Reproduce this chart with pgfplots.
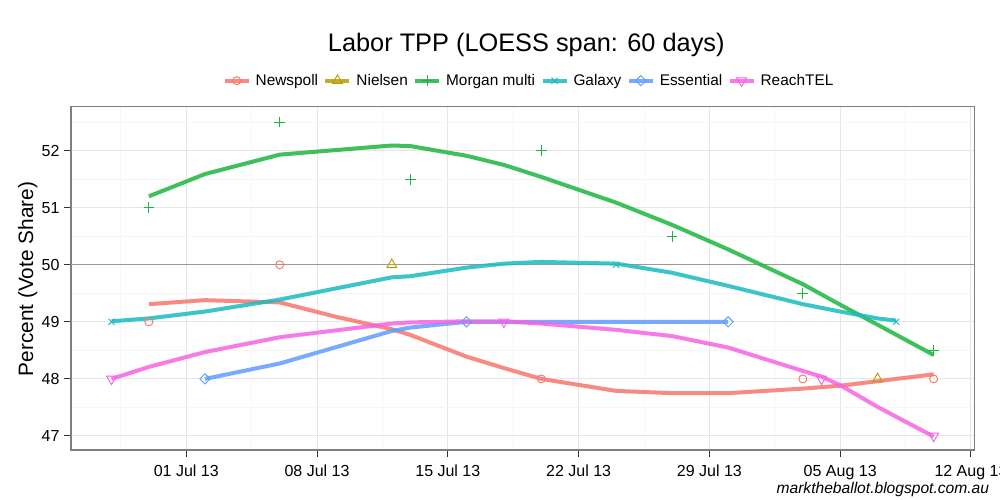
\documentclass[border=0pt]{standalone}
\usepackage{fontspec}
\setmainfont{Liberation Sans}
\usepackage{pgfplots}
\pgfplotsset{compat=1.18}
\definecolor{cNews}{HTML}{F8766D}
\definecolor{cNiel}{HTML}{B79F00}
\definecolor{cMorg}{HTML}{1DB63F}
\definecolor{cGal}{HTML}{19BCC0}
\definecolor{cEss}{HTML}{619CFF}
\definecolor{cReach}{HTML}{F564E3}
\definecolor{gmaj}{HTML}{E6E6E6}
\definecolor{gmin}{HTML}{F6F6F6}
\definecolor{gborder}{HTML}{7F7F7F}
\definecolor{gref}{HTML}{9A9A9A}
\definecolor{gtick}{HTML}{333333}
\begin{document}
\begin{tikzpicture}
\useasboundingbox[fill=white] (0pt,0pt) rectangle (750pt,375pt);
\begin{axis}[
  at={(53.25pt,37.5pt)}, anchor=south west,
  scale only axis, width=677.5pt, height=257.5pt,
  xmin=-6.17, xmax=42.18, ymin=46.754, ymax=52.771,
  xtick={0,7,14,21,28,35,42},
  xticklabels={01 Jul 13,08 Jul 13,15 Jul 13,22 Jul 13,29 Jul 13,05 Aug 13,12 Aug 13},
  minor xtick={-3.5,3.5,10.5,17.5,24.5,31.5,38.5},
  ytick={47,48,49,50,51,52},
  minor ytick={47.5,48.5,49.5,50.5,51.5,52.5},
  grid=both,
  major grid style={color=gmaj, line width=0.75pt},
  minor grid style={color=gmin, line width=0.75pt},
  axis line style={color=gborder, line width=0.8pt},
  tick align=outside, tick pos=left,
  major tick length=5pt, minor tick length=0pt,
  tick style={color=gtick, line width=0.75pt},
  /pgf/number format/assume math mode=true,
  ticklabel style={font=\fontsize{12}{12}\selectfont, text=black},
  xticklabel style={anchor=north, inner sep=0pt, yshift=-6pt},
  yticklabel style={anchor=east, inner sep=0pt, xshift=-3.4pt},
  legend columns=6,
  legend style={at={(axis description cs:0.5059,1.0757)}, anchor=center,
    draw=none, fill=none, inner sep=0pt,
    font=\fontsize{11.55}{13}\selectfont,
    nodes={inner sep=0pt},
    /tikz/every odd column/.append style={column sep=3.75pt},
    /tikz/every even column/.append style={column sep=4pt}},
  legend cell align=left,
  legend image code/.code={
    \draw[mark repeat=2,mark phase=2,#1] plot coordinates {(0pt,0pt) (9pt,0pt) (18pt,0pt)};
  },
]
% legend entries
\addlegendimage{cNews, line width=3pt, draw opacity=0.85, mark=o, mark size=3pt, mark options={line width=0.7pt, draw opacity=1}}
\addlegendentry{Newspoll}
\addlegendimage{cNiel, line width=3pt, draw opacity=0.85, mark=triangle, mark size=4.3pt, mark options={line width=0.7pt, draw opacity=1}}
\addlegendentry{Nielsen}
\addlegendimage{cMorg, line width=3pt, draw opacity=0.85, mark=+, mark size=4pt, mark options={line width=0.7pt, draw opacity=1}}
\addlegendentry{Morgan multi}
\addlegendimage{cGal, line width=3pt, draw opacity=0.85, mark=x, mark size=3.25pt, mark options={line width=0.7pt, draw opacity=1}}
\addlegendentry{Galaxy}
\addlegendimage{cEss, line width=3pt, draw opacity=0.85, mark=square, mark size=2.7pt, mark options={rotate=45, line width=0.7pt, draw opacity=1}}
\addlegendentry{Essential}
\addlegendimage{cReach, line width=3pt, draw opacity=0.85, mark=triangle, mark size=4.3pt, mark options={rotate=180, line width=0.7pt, draw opacity=1}}
\addlegendentry{ReachTEL}

% reference line at 50
\addplot[forget plot, color=gref, line width=0.9pt] coordinates {(-10,50) (50,50)};

% LOESS lines
\addplot[forget plot, cNews, line width=3pt, draw opacity=0.85] coordinates {
(-2,49.31) (1,49.38) (5,49.34) (8,49.09) (11,48.87) (12,48.77) (15,48.39) (17,48.19) (19,48.00)
(23,47.79) (26,47.75) (29,47.75) (33,47.83) (35,47.88) (37,47.96) (40,48.08)};
\addplot[forget plot, cMorg, line width=3pt, draw opacity=0.85] coordinates {
(-2,51.20) (1,51.59) (5,51.93) (11,52.09) (12,52.08) (15,51.91) (17,51.75) (19,51.54)
(23,51.09) (26,50.70) (29,50.27) (33,49.66) (35,49.30) (37,48.95) (40,48.42)};
\addplot[forget plot, cGal, line width=3pt, draw opacity=0.85] coordinates {
(-4,49.01) (-2,49.06) (1,49.18) (5,49.39) (11,49.78) (12,49.80) (15,49.95) (17,50.02) (19,50.05)
(23,50.02) (26,49.86) (29,49.63) (33,49.31) (35,49.18) (37,49.06) (38,49.02)};
\addplot[forget plot, cEss, line width=3pt, draw opacity=0.85] coordinates {
(1,48.00) (5,48.27) (11,48.84) (12,48.90) (15,49.00) (17,49.00) (19,49.00) (23,49.00) (26,49.00) (29,49.00)};
\addplot[forget plot, cReach, line width=3pt, draw opacity=0.85] coordinates {
(-4,48.00) (-2,48.21) (1,48.47) (5,48.73) (11,48.97) (12,48.99) (15,49.01) (17,49.01) (19,48.97)
(23,48.86) (26,48.75) (29,48.55) (33,48.14) (34,48.04) (35,47.89) (37,47.51) (40,46.99)};

% poll points
\addplot[forget plot, only marks, cNews, mark=o, mark size=3pt, mark options={line width=0.7pt}] coordinates {
(-2,49) (5,50) (19,48) (33,48) (40,48)};
\addplot[forget plot, only marks, cNiel, mark=triangle, mark size=4.3pt, mark options={line width=0.7pt}] coordinates {
(11,50) (37,48)};
\addplot[forget plot, only marks, cMorg, mark=+, mark size=4pt, mark options={line width=0.7pt}] coordinates {
(-2,51) (5,52.5) (12,51.5) (19,52) (26,50.5) (33,49.5) (40,48.5)};
\addplot[forget plot, only marks, cGal, mark=x, mark size=3.25pt, mark options={line width=0.7pt}] coordinates {
(-4,49) (23,50) (38,49)};
\addplot[forget plot, only marks, cEss, mark=square, mark size=2.7pt, mark options={rotate=45, line width=0.7pt}] coordinates {
(1,48) (15,49) (29,49)};
\addplot[forget plot, only marks, cReach, mark=triangle, mark size=4.3pt, mark options={rotate=180, line width=0.7pt}] coordinates {
(-4,48) (17,49) (34,48) (40,47)};
\end{axis}
\node[anchor=base, font=\fontsize{19}{21}\selectfont] at (394.7pt,336.2pt) {Labor TPP (LOESS span: 60 days)};
\node[anchor=base, rotate=90, inner sep=0pt, font=\fontsize{15.6}{17}\selectfont] at (24.75pt,165.75pt) {Percent (Vote Share)};
\node[anchor=base east, inner sep=0pt, font=\itshape\fontsize{11.7}{13}\selectfont] at (742pt,5.25pt) {marktheballot.blogspot.com.au};
\end{tikzpicture}
\end{document}
